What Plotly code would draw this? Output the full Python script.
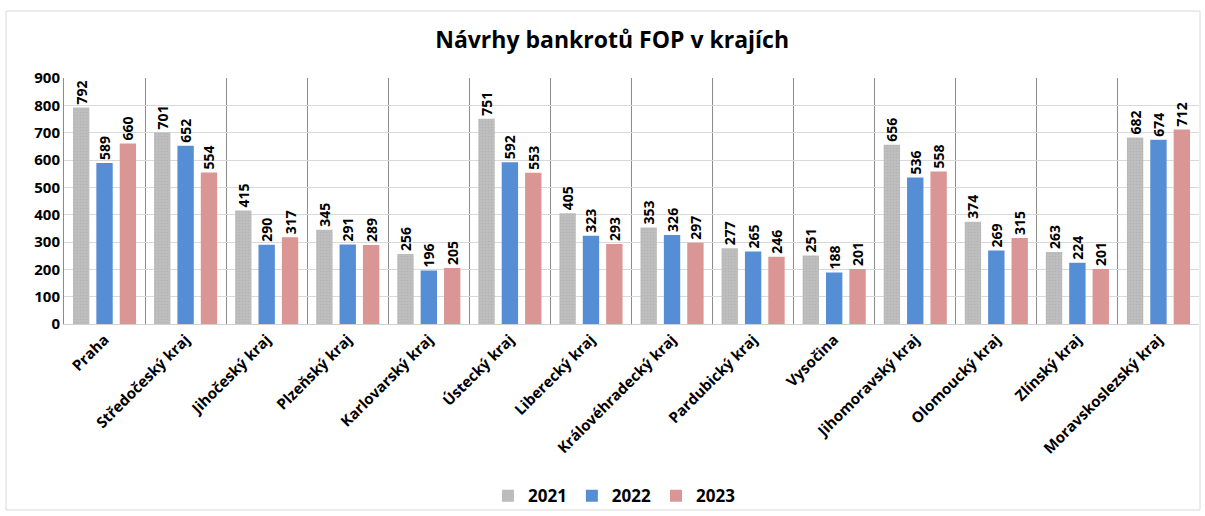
import plotly.graph_objects as go

regions = ["Praha", "Středočeský kraj", "Jihočeský kraj", "Plzeňský kraj", "Karlovarský kraj",
           "Ústecký kraj", "Liberecký kraj", "Královéhradecký kraj", "Pardubický kraj", "Vysočina",
           "Jihomoravský kraj", "Olomoucký kraj", "Zlínský kraj", "Moravskoslezský kraj"]
v2021 = [792, 701, 415, 345, 256, 751, 405, 353, 277, 251, 656, 374, 263, 682]
v2022 = [589, 652, 290, 291, 196, 592, 323, 326, 265, 188, 536, 269, 224, 674]
v2023 = [660, 554, 317, 289, 205, 553, 293, 297, 246, 201, 558, 315, 201, 712]
years = ["2021", "2022", "2023"]
y_ticks = [0, 100, 200, 300, 400, 500, 600, 700, 800, 900]

FONT = "Open Sans"
series = [v2021, v2022, v2023]
colors = ["#BEBEBE", "#558ED5", "#D99694"]

fig = go.Figure()
for name, vals, col in zip(years, series, colors):
    marker = dict(color=col, line=dict(width=0))
    if name == "2021":
        marker["pattern"] = dict(shape=".", fgcolor="#A8A8A8", bgcolor=col, size=3, solidity=0.25)
    fig.add_trace(go.Bar(
        name=name, x=regions, y=vals, marker=marker,
        text=[str(v) for v in vals], textposition="outside", textangle=-90,
        constraintext="none",
        textfont=dict(family=FONT, size=14, color="black", weight="bold"),
        cliponaxis=False,
    ))

fig.update_layout(
    width=1205, height=516,
    margin=dict(l=64, r=6, t=78, b=192, autoexpand=False),
    paper_bgcolor="white", plot_bgcolor="white",
    barmode="group", bargap=0.135, bargroupgap=0.3,
    title=dict(text="<b>Návrhy bankrotů FOP v krajích</b>", x=0.508, xanchor="center",
               y=0.923, yanchor="middle", font=dict(family=FONT, size=23, color="black")),
    legend=dict(orientation="h", x=0.485, xanchor="center", y=-0.70, yanchor="middle",
                font=dict(family=FONT, size=17, color="black", weight="bold"),
                bgcolor="rgba(0,0,0,0)", itemwidth=30, traceorder="normal"),
)
fig.update_xaxes(
    type="category", tickangle=-45, showgrid=True, tickson="boundaries", automargin=False,
    gridcolor="#8C8C8C", gridwidth=1, showline=True, linecolor="#D0D0D0", ticks="",
    tickfont=dict(family=FONT, size=15, color="black", weight="bold"), mirror=False,
)
fig.update_yaxes(
    range=[0, 900], tickvals=y_ticks, showgrid=True, gridcolor="#D9D9D9", zeroline=False,
    showline=True, linecolor="#8C8C8C", ticks="", automargin=False,
    tickfont=dict(family=FONT, size=15, color="black", weight="bold"),
)
fig.add_shape(type="rect", xref="paper", yref="paper", x0=-0.0511, x1=1.0009, y0=-0.756, y1=1.272,
              line=dict(color="#D9D9D9", width=1), fillcolor="rgba(0,0,0,0)", layer="below")

fig.write_html("out.html", config={"displayModeBar": False},
               post_script="document.body.style.margin='0px';")
